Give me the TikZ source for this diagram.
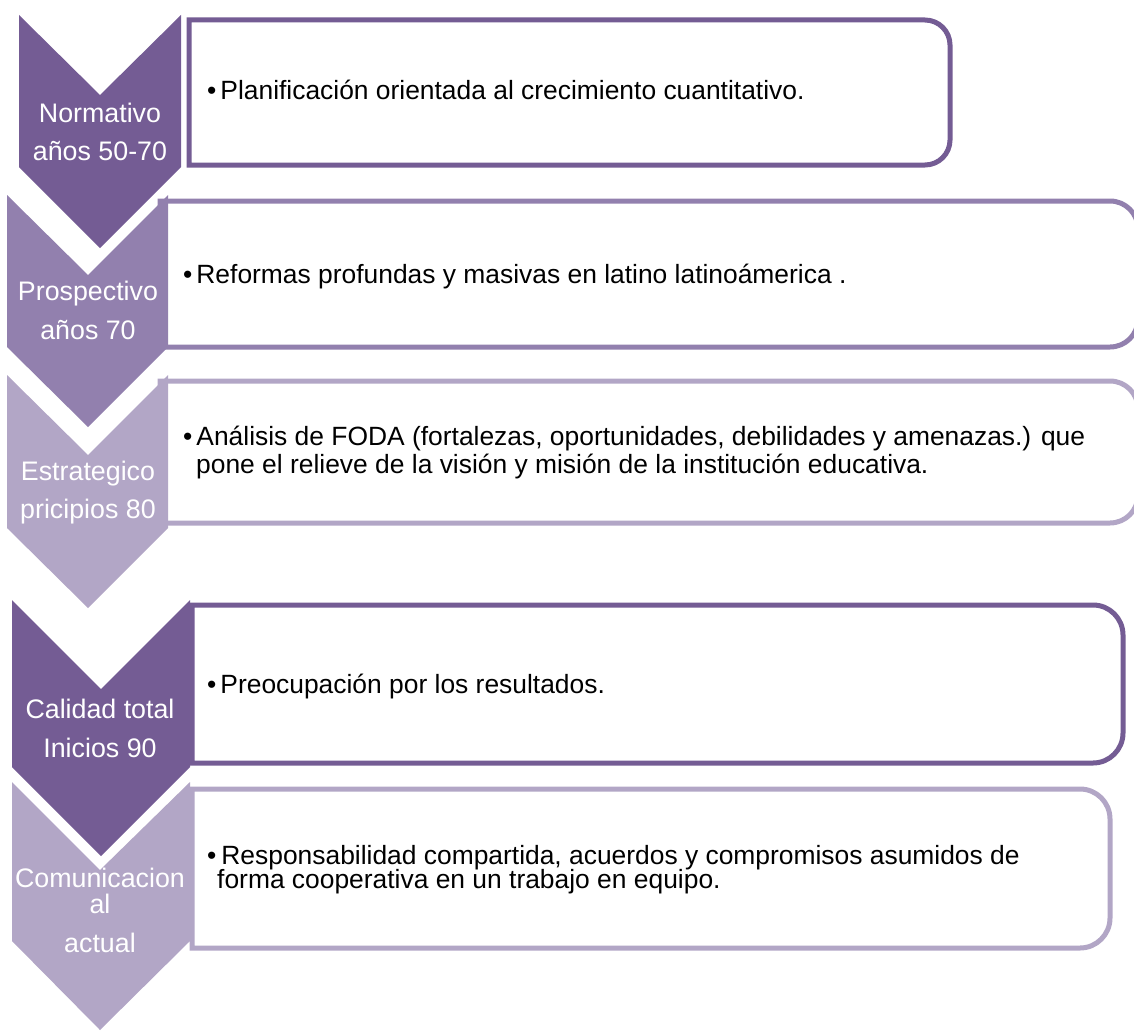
\documentclass[tikz,border=0pt]{standalone}
\usepackage{fontspec}
\setmainfont{Liberation Sans}
\definecolor{cdark}{RGB}{116,92,148}
\definecolor{cmed}{RGB}{146,128,174}
\definecolor{clight}{RGB}{178,166,198}
\newcommand{\bul}{•\hspace{4pt}}
\begin{document}
\begin{tikzpicture}[x=1pt,y=-1pt,
  chevlabel/.style={text=white,font=\fontsize{26.8}{30}\selectfont,anchor=base,inner sep=0pt},
  boxtext/.style={text=black,font=\fontsize{26.4}{30}\selectfont,anchor=base west,inner sep=0pt},
  boxline/.style={line width=5pt,fill=white}]
\useasboundingbox (0,0) rectangle (1134,1030);
\begin{scope}
\clip (0,0) rectangle (1134,1030);
% boxes (right corners rounded)
\draw[boxline,draw=cdark] (189,20) -- (925,20) arc[start angle=-90,end angle=0,radius=25] -- (950,140) arc[start angle=0,end angle=90,radius=25] -- (189,165) -- cycle;
\draw[boxline,draw=cmed] (160,201) -- (1110,201) arc[start angle=-90,end angle=0,radius=28] -- (1138,319) arc[start angle=0,end angle=90,radius=28] -- (160,347) -- cycle;
\draw[boxline,draw=clight] (160,381) -- (1110,381) arc[start angle=-90,end angle=0,radius=28] -- (1138,495) arc[start angle=0,end angle=90,radius=28] -- (160,523) -- cycle;
\draw[boxline,draw=cdark] (192,605) -- (1093,605) arc[start angle=-90,end angle=0,radius=30] -- (1123,733) arc[start angle=0,end angle=90,radius=30] -- (192,763) -- cycle;
\draw[boxline,draw=clight] (192,789) -- (1080,789) arc[start angle=-90,end angle=0,radius=30] -- (1110,918) arc[start angle=0,end angle=90,radius=30] -- (192,948) -- cycle;
% chevrons
\fill[clight] (12,782) -- (100,870) -- (190,782) -- (190,941) -- (100,1030) -- (12,941) -- cycle;
\fill[cdark] (12,600) -- (101,689) -- (190,600) -- (190,767) -- (101,856) -- (12,767) -- cycle;
\fill[clight] (7,375) -- (88,455) -- (168,375) -- (168,528) -- (88,608) -- (7,528) -- cycle;
\fill[cmed] (7,195) -- (88,275) -- (168,195) -- (168,347) -- (88,427) -- (7,347) -- cycle;
\fill[cdark] (19,15) -- (100,95) -- (181,15) -- (181,167) -- (100,248) -- (19,167) -- cycle;
\end{scope}
% chevron labels
\node[chevlabel] (c1a) at (100,122) {Normativo};
\node[chevlabel] (c1b) at (100,160) {años 50-70};
\node[chevlabel] (c2a) at (88,300) {Prospectivo};
\node[chevlabel] (c2b) at (88,339) {años 70};
\node[chevlabel] (c3a) at (88,480) {Estrategico};
\node[chevlabel] (c3b) at (88,518) {pricipios 80};
\node[chevlabel] (c4a) at (100,718) {Calidad total};
\node[chevlabel] (c4b) at (100,757) {Inicios 90};
\node[chevlabel] (c5a) at (100,887) {Comunicacion};
\node[chevlabel] (c5b) at (100,913) {al};
\node[chevlabel] (c5c) at (100,952) {actual};
% box texts
\node[boxtext] (t1) at (207,100) {\bul Planificación orientada al crecimiento cuantitativo.};
\node[boxtext] (t2) at (183,283) {\bul Reformas profundas y masivas en latino latinoámerica .};
\node[boxtext] (t3a) at (183,445) {\bul Análisis de FODA (fortalezas, oportunidades, debilidades y amenazas.) que};
\node[boxtext] (t3b) at (196,473) {pone el relieve de la visión y misión de la institución educativa.};
\node[boxtext] (t4) at (207,693) {\bul Preocupación por los resultados.};
\node[boxtext] (t5a) at (207,864) {•\hspace{5pt}Responsabilidad compartida, acuerdos y compromisos asumidos de};
\node[boxtext] (t5b) at (217,888) {forma cooperativa en un trabajo en equipo.};
\end{tikzpicture}
\end{document}
